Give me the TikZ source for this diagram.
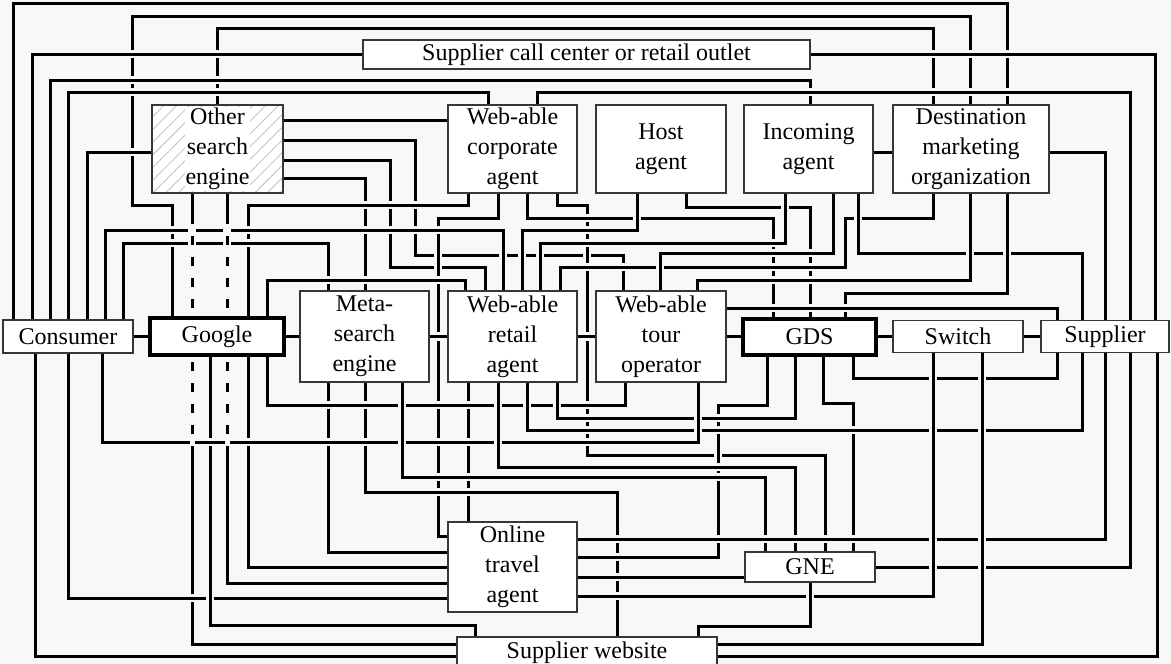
\documentclass[tikz,border=0pt]{standalone}
\usepackage{fontspec}
\setmainfont{Liberation Serif}
\usetikzlibrary{patterns.meta}
\definecolor{bg}{RGB}{248,248,248}
\definecolor{bd}{RGB}{55,55,55}
\begin{document}
\begin{tikzpicture}[x=1pt,y=-1pt,
  box/.style={draw=bd, line width=1.9pt, fill=white, inner sep=0pt, align=center,
              font=\fontsize{24}{30}\selectfont},
  place/.style={inner sep=0pt, draw=none, fill=none},
  boldbox/.style={box, draw=black, line width=4.8pt},
  ln/.style={line width=3pt, line join=miter, preaction={draw=bg, line width=8.2pt}},
  gapdash/.style={draw=bg, line width=5pt, dash pattern=on 12pt off 9pt},
]
\useasboundingbox[fill=bg] (0,0) rectangle (1171,664);

% placeholders that fix the anchors used by the connectors
\node[place, minimum width=447pt, minimum height=29pt] (CC) at (586.5,54.5) {};
\node[place, minimum width=131pt, minimum height=88pt] (OSE) at (217.5,149) {};
\node[place, minimum width=129pt, minimum height=88pt] (WCA) at (512.5,149) {};
\node[place, minimum width=130pt, minimum height=88pt] (HA) at (661,149) {};
\node[place, minimum width=129pt, minimum height=88pt] (IA) at (808.5,149) {};
\node[place, minimum width=156pt, minimum height=88pt] (DMO) at (971,149) {};
\node[place, minimum width=130pt, minimum height=33pt] (CON) at (68,336.5) {};
\node[place, minimum width=134pt, minimum height=37pt] (GOO) at (217,336.5) {};
\node[place, minimum width=129pt, minimum height=91pt] (META) at (364.5,336.5) {};
\node[place, minimum width=129pt, minimum height=91pt] (WRA) at (512.5,336.5) {};
\node[place, minimum width=130pt, minimum height=91pt] (WTO) at (661,336.5) {};
\node[place, minimum width=133pt, minimum height=36pt] (GDS) at (809.5,337) {};
\node[place, minimum width=130pt, minimum height=32pt] (SW) at (958,336.5) {};
\node[place, minimum width=128pt, minimum height=32pt] (SUP) at (1105,336.5) {};
\node[place, minimum width=129pt, minimum height=90pt] (OTA) at (512.5,567) {};
\node[place, minimum width=130pt, minimum height=30pt] (GNE) at (810,567) {};
\node[place, minimum width=260pt, minimum height=31pt] (SWEB) at (587,651.5) {};

% ---------- connectors ----------
\draw[ln] (CON.north -| 13,0) -- (13,3) -- (1007,3) -- (DMO.north -| 1007,0);
\draw[ln] (GOO.north -| 172,0) -- (172,205) -- (132,205) -- (132,16) -- (970,16) -- (DMO.north -| 970,0);
\draw[ln] (OSE.north -| 217,0) -- (217,28) -- (933,28) -- (DMO.north -| 933,0);
\draw[ln] (CON.north -| 32,0) -- (32,54) -- (CC.west |- 0,54);
\draw[ln] (CC.east |- 0,54) -- (1155,54) -- (SUP.north -| 1155,0);
\draw[ln] (CON.north -| 50,0) -- (50,80) -- (810,80) -- (IA.north -| 810,0);
\draw[ln] (CON.north -| 68,0) -- (68,92) -- (488,92) -- (WCA.north -| 488,0);
\draw[ln] (WCA.north -| 537,0) -- (537,92) -- (1130,92) -- (SUP.north -| 1130,0);
\draw[ln] (OSE.east |- 0,120) -- (WCA.west |- 0,120);
\draw[ln] (CON.north -| 87,0) -- (87,152) -- (OSE.west |- 0,152);
\draw[ln] (DMO.east |- 0,152) -- (1105,152) -- (SUP.north -| 1105,0);
\draw[ln] (OSE.east |- 0,178) -- (365,178) -- (META.north -| 365,0);
\draw[ln] (OSE.east |- 0,160) -- (390,160) -- (390,267) -- (485,267) -- (WRA.north -| 485,0);
\draw[ln] (OSE.east |- 0,140) -- (415,140) -- (415,255) -- (623,255) -- (WTO.north -| 623,0);
\draw[ln] (WCA.south -| 468,0) -- (468,205) -- (248,205) -- (GOO.north -| 248,0);
\draw[ln] (HA.south -| 686,0) -- (686,207) -- (810,207) -- (GDS.north -| 810,0);
\draw[ln] (WCA.south -| 557,0) -- (557,205) -- (587,205) -- (587,455) -- (825,455) -- (GNE.north -| 825,0);
\draw[ln] (WCA.south -| 498,0) -- (498,218) -- (438,218) -- (438,536) -- (OTA.west |- 0,536);
\draw[ln] (WCA.south -| 527,0) -- (527,218) -- (773,218) -- (GDS.north -| 773,0);
\draw[ln] (DMO.south -| 933,0) -- (933,218) -- (845,218) -- (845,267) -- (560,267) -- (WRA.north -| 560,0);
\draw[ln] (CON.north -| 105,0) -- (105,230) -- (503,230) -- (WRA.north -| 503,0);
\draw[ln] (WRA.north -| 522,0) -- (522,230) -- (637,230) -- (HA.south -| 637,0);
\draw[ln] (CON.north -| 123,0) -- (123,243) -- (328,243) -- (META.north -| 328,0);
\draw[ln] (IA.south -| 785,0) -- (785,243) -- (540,243) -- (WRA.north -| 540,0);
\draw[ln] (IA.south -| 833,0) -- (833,253) -- (660,253) -- (WTO.north -| 660,0);
\draw[ln] (IA.south -| 858,0) -- (858,253) -- (1082,253) -- (SUP.north -| 1082,0);
\draw[ln] (GOO.north -| 267,0) -- (267,280) -- (465,280) -- (WRA.north -| 465,0);
\draw[ln] (DMO.south -| 970,0) -- (970,280) -- (697,280) -- (WTO.north -| 697,0);
\draw[ln] (DMO.south -| 1007,0) -- (1007,293) -- (845,293) -- (GDS.north -| 845,0);
\draw[ln] (WTO.east |- 0,308) -- (1057,308) -- (SUP.north -| 1057,0);
% lower half
\draw[ln] (OSE.south -| 192,0) -- (192,644) -- (SWEB.west |- 0,644);
\draw[ln] (OSE.south -| 227,0) -- (227,583) -- (OTA.west |- 0,583);
\draw[ln] (CON.south -| 35,0) -- (35,656) -- (SWEB.west |- 0,656);
\draw[ln] (CON.south -| 68,0) -- (68,598) -- (OTA.west |- 0,598);
\draw[ln] (GOO.south -| 210,0) -- (210,625) -- (475,625) -- (SWEB.north -| 475,0);
\draw[ln] (GOO.south -| 248,0) -- (248,567) -- (OTA.west |- 0,567);
\draw[ln] (META.south -| 328,0) -- (328,552) -- (OTA.west |- 0,552);
\draw[ln] (WRA.south -| 468,0) -- (OTA.north -| 468,0);
\draw[ln] (META.south -| 365,0) -- (365,492) -- (617,492) -- (SWEB.north -| 617,0);
\draw[ln] (GDS.south -| 767,0) -- (767,405) -- (718,405) -- (718,557) -- (OTA.east |- 0,557);
\draw[ln] (GDS.south -| 853,0) -- (853,378) -- (1057,378) -- (SUP.south -| 1057,0);
\draw[ln] (GOO.south -| 267,0) -- (267,405) -- (625,405) -- (WTO.south -| 625,0);
\draw[ln] (GDS.south -| 823,0) -- (823,403) -- (853,403) -- (GNE.north -| 853,0);
\draw[ln] (WRA.south -| 557,0) -- (557,418) -- (795,418) -- (GDS.south -| 795,0);
\draw[ln] (WRA.south -| 527,0) -- (527,430) -- (1082,430) -- (SUP.south -| 1082,0);
\draw[ln] (CON.south -| 102,0) -- (102,442) -- (698,442) -- (WTO.south -| 698,0);
\draw[ln] (WRA.south -| 498,0) -- (498,467) -- (795,467) -- (GNE.north -| 795,0);
\draw[ln] (META.south -| 402,0) -- (402,477) -- (765,477) -- (GNE.north -| 765,0);
\draw[ln] (OTA.east |- 0,539) -- (1105,539) -- (SUP.south -| 1105,0);
\draw[ln] (GNE.east |- 0,567) -- (1130,567) -- (SUP.south -| 1130,0);
\draw[ln] (OTA.east |- 0,577) -- (GNE.west |- 0,577);
\draw[ln] (OTA.east |- 0,596) -- (933,596) -- (SW.south -| 933,0);
\draw[ln] (SWEB.north -| 698,0) -- (698,626) -- (810,626) -- (GNE.south -| 810,0);
\draw[ln] (SWEB.east |- 0,644) -- (982,644) -- (SW.south -| 982,0);
\draw[ln] (SWEB.east |- 0,656) -- (1157,656) -- (SUP.south -| 1157,0);
% short links between neighbours
\draw[ln] (IA.east |- 0,152) -- (DMO.west |- 0,152);
\draw[ln] (CON.east) -- (GOO.west);
\draw[ln] (GOO.east) -- (META.west |- GOO.east);
\draw[ln] (META.east) -- (WRA.west);
\draw[ln] (WRA.east) -- (WTO.west);
\draw[ln] (WTO.east |- 0,336.5) -- (GDS.west |- 0,336.5);
\draw[ln] (GDS.east |- 0,336.5) -- (SW.west);
\draw[ln] (SW.east) -- (SUP.west);

% dashed look of the two lines from the other search engine
\draw[gapdash] (192,224) -- (192,446);
\draw[gapdash] (227,224) -- (227,446);

% ---------- boxes ----------
\node[box, minimum width=447pt, minimum height=29pt] (CCb) at (CC) {Supplier call center or retail outlet};
\node[box, minimum width=131pt, minimum height=88pt,
      preaction={fill=white}, pattern={Lines[angle=45,distance=9pt,line width=0.9pt]},
      pattern color=gray!45] (OSEb) at (OSE) {};
\node[fill=white, inner sep=1pt, align=center, font=\fontsize{24}{30}\selectfont] (OSEt) at (OSE) {Other\\search\\engine};
\node[box, minimum width=129pt, minimum height=88pt] (WCAb) at (WCA) {Web-able\\corporate\\agent};
\node[box, minimum width=130pt, minimum height=88pt] (HAb) at (HA) {Host\\agent};
\node[box, minimum width=129pt, minimum height=88pt] (IAb) at (IA) {Incoming\\agent};
\node[box, minimum width=156pt, minimum height=88pt] (DMOb) at (DMO) {Destination\\marketing\\organization};
\node[box, minimum width=130pt, minimum height=33pt] (CONb) at (CON) {Consumer};
\node[boldbox, minimum width=134pt, minimum height=37pt] (GOOb) at (GOO) {Google};
\node[box, minimum width=129pt, minimum height=91pt] (METAb) at (META) {Meta-\\search\\engine};
\node[box, minimum width=129pt, minimum height=91pt] (WRAb) at (WRA) {Web-able\\retail\\agent};
\node[box, minimum width=130pt, minimum height=91pt] (WTOb) at (WTO) {Web-able\\tour\\operator};
\node[boldbox, minimum width=133pt, minimum height=36pt] (GDSb) at (GDS) {GDS};
\node[box, minimum width=130pt, minimum height=32pt] (SWb) at (SW) {Switch};
\node[box, minimum width=128pt, minimum height=32pt] (SUPb) at (SUP) {Supplier};
\node[box, minimum width=129pt, minimum height=90pt] (OTAb) at (OTA) {Online\\travel\\agent};
\node[box, minimum width=130pt, minimum height=30pt] (GNEb) at (GNE) {GNE};
\node[box, minimum width=260pt, minimum height=31pt, anchor=north] (SWEBb) at (SWEB.north) {\raisebox{2pt}{Supplier website}};
\end{tikzpicture}
\end{document}
